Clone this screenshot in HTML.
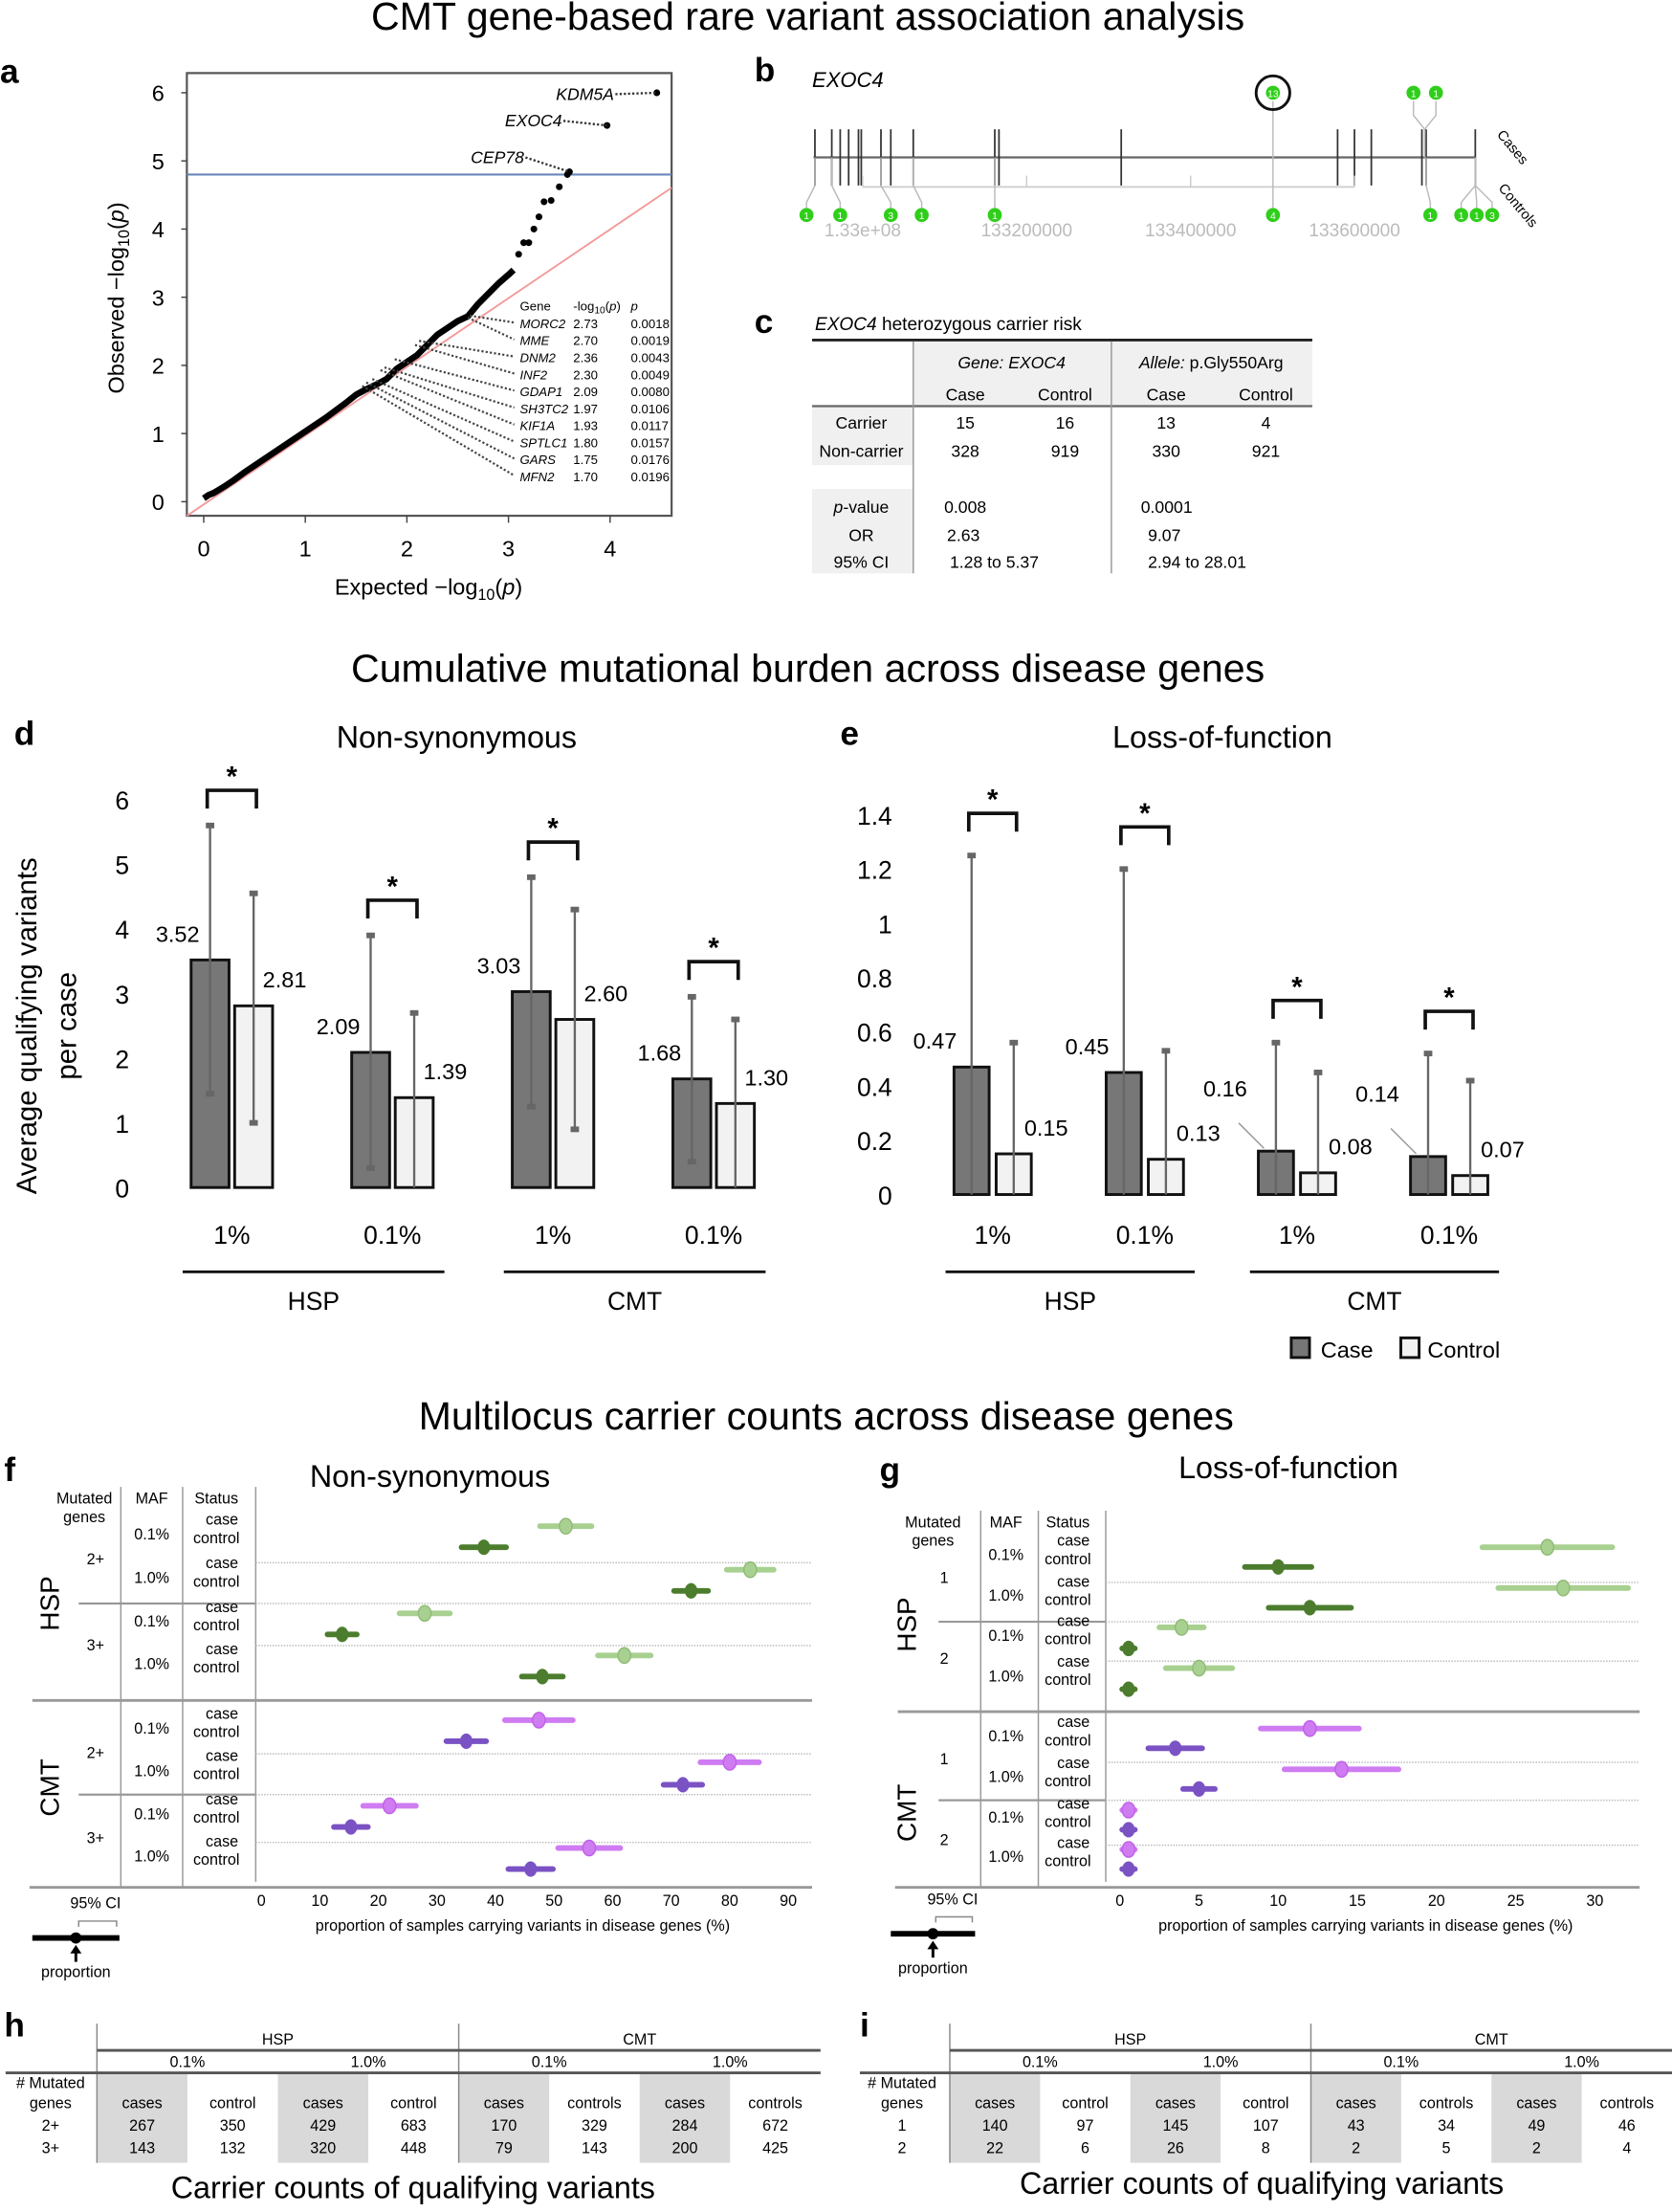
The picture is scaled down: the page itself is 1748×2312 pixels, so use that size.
<!DOCTYPE html>
<html><head><meta charset="utf-8">
<style>
html,body{margin:0;padding:0;background:#fff;}
svg{display:block;font-family:"Liberation Sans",sans-serif;}
</style></head>
<body>
<svg id="fig" width="1748" height="2312" viewBox="0 0 1190 1574" preserveAspectRatio="none" xmlns="http://www.w3.org/2000/svg">
<rect x="0" y="0" width="1190" height="1574" fill="#fff"/>
<!-- Titles -->
<text x="575" y="21" font-size="28" text-anchor="middle">CMT gene-based rare variant association analysis</text>
<text x="575" y="485" font-size="28" text-anchor="middle">Cumulative mutational burden across disease genes</text>
<text x="588" y="1017" font-size="28" text-anchor="middle">Multilocus carrier counts across disease genes</text>

<!-- Panel a -->
<g id="panelA">
<text x="0" y="59" font-size="24" font-weight="bold">a</text>
<rect x="133" y="52" width="345" height="315" fill="none" stroke="#555" stroke-width="1.5"/>
<text transform="translate(88,212) rotate(-90)" font-size="16" text-anchor="middle">Observed −log<tspan font-size="11" dy="4">10</tspan><tspan dy="-4">(</tspan><tspan font-style="italic">p</tspan>)</text>
<text x="305" y="423" font-size="16" text-anchor="middle">Expected −log<tspan font-size="11" dy="4">10</tspan><tspan dy="-4">(</tspan><tspan font-style="italic">p</tspan>)</text>
<text x="370" y="221" font-size="9">Gene</text>
<text x="408" y="221" font-size="9">-log<tspan font-size="7" dy="2">10</tspan><tspan dy="-2">(</tspan><tspan font-style="italic">p</tspan>)</text>
<text x="449" y="221" font-size="9" font-style="italic">p</text>
</g>

<!-- Panel b -->
<g id="panelB">
<text x="537" y="58" font-size="24" font-weight="bold">b</text>
<text x="578" y="62" font-size="15" font-style="italic">EXOC4</text>
<line x1="579" y1="112" x2="1050" y2="112" stroke="#666" stroke-width="1.5"/>
<line x1="614" y1="133" x2="964" y2="133" stroke="#ccc" stroke-width="1.2"/>
<text transform="translate(1065,96) rotate(50)" font-size="10">Cases</text>
<text transform="translate(1066,134) rotate(50)" font-size="10">Controls</text>
</g>

<!-- Panel c -->
<g id="panelC" font-size="12">
<text x="537" y="237" font-size="24" font-weight="bold">c</text>
<text x="580" y="235" font-size="13"><tspan font-style="italic">EXOC4</tspan> heterozygous carrier risk</text>
<rect x="650" y="243" width="284" height="46" fill="#f0f0f0"/>
<rect x="578" y="289" width="72" height="42" fill="#f0f0f0"/>
<rect x="578" y="348" width="72" height="60" fill="#f0f0f0"/>
<line x1="578" y1="242" x2="934" y2="242" stroke="#222" stroke-width="2"/>
<line x1="578" y1="289" x2="934" y2="289" stroke="#666" stroke-width="1.5"/>
<line x1="650" y1="243" x2="650" y2="408" stroke="#999" stroke-width="1"/>
<line x1="791" y1="243" x2="791" y2="408" stroke="#999" stroke-width="1"/>
<text x="720" y="262" text-anchor="middle" font-style="italic">Gene: EXOC4</text>
<text x="862" y="262" text-anchor="middle"><tspan font-style="italic">Allele:</tspan> p.Gly550Arg</text>
<text x="687" y="285" text-anchor="middle">Case</text><text x="758" y="285" text-anchor="middle">Control</text>
<text x="830" y="285" text-anchor="middle">Case</text><text x="901" y="285" text-anchor="middle">Control</text>
<text x="613" y="305" text-anchor="middle">Carrier</text><text x="613" y="325" text-anchor="middle">Non-carrier</text>
<text x="687" y="305" text-anchor="middle">15</text><text x="758" y="305" text-anchor="middle">16</text><text x="830" y="305" text-anchor="middle">13</text><text x="901" y="305" text-anchor="middle">4</text>
<text x="687" y="325" text-anchor="middle">328</text><text x="758" y="325" text-anchor="middle">919</text><text x="830" y="325" text-anchor="middle">330</text><text x="901" y="325" text-anchor="middle">921</text>
<text x="613" y="365" text-anchor="middle"><tspan font-style="italic">p</tspan>-value</text>
<text x="613" y="385" text-anchor="middle">OR</text><text x="613" y="404" text-anchor="middle">95% CI</text>
<text x="672" y="365">0.008</text><text x="674" y="385">2.63</text><text x="676" y="404">1.28 to 5.37</text>
<text x="812" y="365">0.0001</text><text x="817" y="385">9.07</text><text x="817" y="404">2.94 to 28.01</text>
</g>

<!-- Panels d / e static -->
<text x="10" y="530" font-size="24" font-weight="bold">d</text>
<text x="325" y="532" font-size="22" text-anchor="middle">Non-synonymous</text>
<text transform="translate(26,730) rotate(-90)" font-size="20" text-anchor="middle">Average qualifying variants</text>
<text transform="translate(54,730) rotate(-90)" font-size="20" text-anchor="middle">per case</text>
<text x="598" y="530" font-size="24" font-weight="bold">e</text>
<text x="870" y="532" font-size="22" text-anchor="middle">Loss-of-function</text>
<g>
<rect x="919" y="952" width="13" height="14" fill="#777" stroke="#111" stroke-width="2"/>
<text x="940" y="966" font-size="16">Case</text>
<rect x="997" y="952" width="13" height="14" fill="#f2f2f2" stroke="#111" stroke-width="2"/>
<text x="1016" y="966" font-size="16">Control</text>
</g>

<!-- f / g static -->
<text x="3" y="1054" font-size="24" font-weight="bold">f</text>
<text x="306" y="1058" font-size="22" text-anchor="middle">Non-synonymous</text>
<text x="626" y="1054" font-size="24" font-weight="bold">g</text>
<text x="917" y="1052" font-size="22" text-anchor="middle">Loss-of-function</text>

<!-- h / i -->
<text x="3" y="1449" font-size="24" font-weight="bold">h</text>
<text x="612" y="1449" font-size="24" font-weight="bold">i</text>
<text x="294" y="1564" font-size="22" text-anchor="middle">Carrier counts of qualifying variants</text>
<text x="898" y="1561" font-size="22" text-anchor="middle">Carrier counts of qualifying variants</text>
</svg>

<script>
const NS='http://www.w3.org/2000/svg';
const svg=document.getElementById('fig');
function mk(tag,attrs,parent){const e=document.createElementNS(NS,tag);for(const k in attrs)e.setAttribute(k,attrs[k]);(parent||svg).appendChild(e);return e;}
function txt(s,attrs,parent){const e=mk('text',attrs,parent);e.textContent=s;return e;}

/* ---------- Panel a data ---------- */
const qqExpected=[0,0.05,0.1,0.2,0.3,0.4,0.6,0.8,1.0,1.2,1.4,1.5,1.6,1.7,1.8,1.9,2.0,2.1,2.2,2.3,2.4,2.5,2.6,2.7,2.8,2.9,3.0,3.05];
const qqObserved=[0.05,0.1,0.13,0.22,0.32,0.43,0.63,0.83,1.03,1.23,1.45,1.57,1.65,1.72,1.8,1.95,2.05,2.15,2.3,2.45,2.55,2.65,2.72,2.9,3.05,3.2,3.33,3.4];
const tailExpected=[3.1,3.15,3.2,3.25,3.3,3.35,3.42,3.5,3.58,3.6,3.97,4.46];
const tailObserved=[3.63,3.8,3.8,4.0,4.18,4.4,4.42,4.62,4.8,4.84,5.52,6.0];
const aTicks=[0,1,2,3,4,5,6];
const geneNames=['MORC2','MME','DNM2','INF2','GDAP1','SH3TC2','KIF1A','SPTLC1','GARS','MFN2'];
const geneLogP=['2.73','2.70','2.36','2.30','2.09','1.97','1.93','1.80','1.75','1.70'];
const geneP=['0.0018','0.0019','0.0043','0.0049','0.0080','0.0106','0.0117','0.0157','0.0176','0.0196'];
const geneExpected=[2.62,2.6,2.12,2.08,1.88,1.78,1.74,1.66,1.6,1.56];
const topGenes=['KDM5A','EXOC4','CEP78'];
const topIdx=[11,10,9];
const sigThreshold=4.8;

const xA=v=>145+v*72.3, yA=v=>357-v*48.5;
(function(){
  const g=document.getElementById('panelA');
  aTicks.forEach(t=>{
    const l=mk('line',{x1:129,x2:133,y1:yA(t),y2:yA(t),stroke:'#444'},g);
    
    
    const tl=txt(String(t),{x:117,y:yA(t)+6,'font-size':16,'text-anchor':'end'},g);
    
    
    if(t<=4){
      const lx=mk('line',{x1:xA(t),x2:xA(t),y1:367,y2:372,stroke:'#444'},g);
      
      
      const xl=txt(String(t),{x:xA(t),y:396,'font-size':16,'text-anchor':'middle'},g);
      
      
    }
  });
  const sig=mk('line',{x1:133,x2:478,y1:yA(sigThreshold),y2:yA(sigThreshold),stroke:'#6a86b8','stroke-width':1.5},g);
  
  
  const diag=mk('line',{x1:133,y1:yA((133-145)/72.3)+2,x2:478,y2:yA((478-145)/72.3),stroke:'#f39a9a','stroke-width':1.3},g);
  
  
  const pts=qqExpected.map((e,i)=>xA(e)+','+yA(qqObserved[i])).join(' ');
  const pl=mk('polyline',{points:pts,fill:'none',stroke:'#000','stroke-width':4.5,'stroke-linejoin':'round'},g);
  
  
  tailExpected.forEach((e,i)=>{
    const c=mk('circle',{cx:xA(e),cy:yA(tailObserved[i]),r:2.4,fill:'#000'},g);
    
    
  });
  const labelX=[437,400,373], labelY=[71,90,116];
  topGenes.forEach((n,k)=>{
    const i=topIdx[k];
    const l=mk('line',{x1:labelX[k]+1,y1:labelY[k]-4,x2:xA(tailExpected[i]),y2:yA(tailObserved[i]),stroke:'#333','stroke-width':1.6,'stroke-dasharray':'1.5,1.5'},g);
    
    
    const t=txt(n,{x:labelX[k],y:labelY[k],'font-size':12,'font-style':'italic','text-anchor':'end'},g);
    
    
  });
  geneNames.forEach((n,i)=>{
    const ry=233.5+i*12.1;
    const t1=txt(n,{x:370,y:ry,'font-size':9,'font-style':'italic'},g);
    
    
    const t2=txt(geneLogP[i],{x:408,y:ry,'font-size':9},g);
    
    
    const t3=txt(geneP[i],{x:449,y:ry,'font-size':9},g);
    
    
    const l=mk('line',{x1:xA(geneExpected[i]),y1:yA(parseFloat(geneLogP[i])),x2:366,y2:ry-4,stroke:'#444','stroke-width':1.5,'stroke-dasharray':'1.5,1.5'},g);
    
    
  });
})();

/* ---------- Panel b ---------- */
const exonPositions=[580,592,598,604,611,613,627,634,650,708,711,798,952,964,976,1012,1015,1050];
const caseVarPos=[906,1006,1022];
const caseVarCounts=['13','1','1'];
const ctrlVarPos=[574,598,634,656,708,906,1018,1040,1051,1062];
const ctrlVarCounts=['1','1','3','1','1','4','1','1','1','3'];
const ctrlVarAnchor=[580,592,627,650,708,906,1015,1050,1050,1050];
const axisTicks=['1.33e+08','133200000','133400000','133600000'];
(function(){
  const g=document.getElementById('panelB');
  exonPositions.forEach(x=>{
    const l=mk('line',{x1:x,x2:x,y1:92,y2:132,stroke:'#333','stroke-width':1.2},g);
    
    
  });
  axisTicks.forEach((t,i)=>{
    const x=614+i*116.7;
    mk('line',{x1:x,x2:x,y1:125,y2:133,stroke:'#ccc'},g);
    const tl=txt(t,{x:x,y:168,'font-size':13,fill:'#bbb','text-anchor':'middle'},g);
    
    
  });
  caseVarPos.forEach((x,i)=>{
    const ax=i==0?906:1014;
    mk('path',{d:`M${x},72 L${x},82 L${ax},92 L${ax},112`,fill:'none',stroke:'#bbb'},g);
    const c=mk('circle',{cx:x,cy:66,r:5,fill:'#2fce1a'},g);
    
    
    txt(caseVarCounts[i],{x:x,y:69,'font-size':7,fill:'#fff','text-anchor':'middle'},g);
  });
  const ring=mk('circle',{cx:906,cy:66,r:12,fill:'none',stroke:'#111','stroke-width':2},g);
  
  
  ctrlVarPos.forEach((x,i)=>{
    const ax=ctrlVarAnchor[i];
    mk('path',{d:`M${ax},112 L${ax},132 L${x},144 L${x},148`,fill:'none',stroke:'#bbb'},g);
    const c=mk('circle',{cx:x,cy:153,r:5,fill:'#2fce1a'},g);
    
    
    txt(ctrlVarCounts[i],{x:x,y:156,'font-size':7,fill:'#fff','text-anchor':'middle'},g);
  });
})();

/* ---------- Panel d / e data ---------- */
const burdenCats=['1%','0.1%','1%','0.1%'];
const burdenGroups=['HSP','CMT'];
const dTicks=[0,1,2,3,4,5,6];
const dCase=[3.52,2.09,3.03,1.68];
const dControl=[2.81,1.39,2.60,1.30];
const dCaseHi=[5.6,3.9,4.8,2.95];
const dCaseLo=[1.45,0.3,1.25,0.4];
const dCtrlHi=[4.55,2.7,4.3,2.6];
const dCtrlLo=[1.0,0.0,0.9,0.0];
const eTicks=[0,0.2,0.4,0.6,0.8,1,1.2,1.4];
const eCase=[0.47,0.45,0.16,0.14];
const eControl=[0.15,0.13,0.08,0.07];
const eCaseHi=[1.25,1.20,0.56,0.52];
const eCaseLo=[0,0,0,0];
const eCtrlHi=[0.56,0.53,0.45,0.42];
const eCtrlLo=[0,0,0,0];

function burden(o){
  const y=v=>o.zero-v*o.scale;
  o.ticks.forEach(t=>{
    const tl=txt(String(t),{x:o.tickX,y:y(t)+7,'font-size':18,'text-anchor':'end'});
    
    
  });
  for(let g=0;g<4;g++){
    const cl=o.left0+g*o.step, ctl=cl+o.ctrlOff, w=o.bw;
    const b1=mk('rect',{x:cl,y:y(o.cas[g]),width:w,height:o.cas[g]*o.scale,fill:'#777',stroke:'#111','stroke-width':2});
    
    
    const b2=mk('rect',{x:ctl,y:y(o.ctl[g]),width:w,height:o.ctl[g]*o.scale,fill:'#f2f2f2',stroke:'#111','stroke-width':2});
    
    
    [[cl,o.cHi[g],o.cLo[g]],[ctl,o.tHi[g],o.tLo[g]]].forEach(([bx,hi,lo])=>{
      const cx=bx+w/2;
      const el=mk('line',{x1:cx,x2:cx,y1:y(hi),y2:y(lo),stroke:'#666','stroke-width':1.6});
      
      
      mk('rect',{x:cx-3,y:y(hi)-2,width:6,height:4,fill:'#666'});
      if(lo>0) mk('rect',{x:cx-3,y:y(lo)-2,width:6,height:4,fill:'#666'});
    });
    let lift=0;
    if(o.cas[g]<0.2&&o.scale>100){lift=26;
      mk('line',{x1:cl-14,y1:y(o.cas[g])-20,x2:cl+4,y2:y(o.cas[g])-2,stroke:'#999'});}
    const vl=txt(o.cas[g].toFixed(2),{x:cl+o.labOff-(lift?10:0),y:y(o.cas[g])-13-lift,'font-size':16,'text-anchor':'end'});
    
    
    const vl2=txt(o.ctl[g].toFixed(2),{x:ctl+20,y:y(o.ctl[g])-13,'font-size':16});
    
    
    const by=y(Math.max(o.cHi[g],o.tHi[g]))-o.brOff;
    const x1=cl+w/2-2, x2=ctl+w/2+2;
    const br=mk('path',{d:`M${x1},${by+13} L${x1},${by} L${x2},${by} L${x2},${by+13}`,fill:'none',stroke:'#111','stroke-width':2.5});
    
    
    const st=txt('*',{x:(x1+x2)/2,y:by-3,'font-size':20,'font-weight':'bold','text-anchor':'middle'});
    
    
    const cat=txt(burdenCats[g],{x:(cl+ctl+w)/2,y:885,'font-size':18,'text-anchor':'middle'});
    
    
  }
  for(let k=0;k<2;k++){
    const a=o.left0+2*k*o.step-6, b=o.left0+(2*k+1)*o.step+o.ctrlOff+o.bw+8;
    const gl=mk('line',{x1:a,x2:b,y1:905,y2:905,stroke:'#111','stroke-width':2});
    
    
    const gt=txt(burdenGroups[k],{x:(a+b)/2,y:932,'font-size':18,'text-anchor':'middle'});
    
    
  }
}
burden({id:'d',zero:845,scale:46,tickX:92,ticks:dTicks,left0:136,step:114.3,ctrlOff:31,bw:27,labOff:6,brOff:25,cas:dCase,ctl:dControl,cHi:dCaseHi,cLo:dCaseLo,tHi:dCtrlHi,tLo:dCtrlLo});
burden({id:'e',zero:850,scale:193,tickX:635,ticks:eTicks,left0:679,step:108.3,ctrlOff:30,bw:25,labOff:2,brOff:30,cas:eCase,ctl:eControl,cHi:eCaseHi,cLo:eCaseLo,tHi:eCtrlHi,tLo:eCtrlLo});

/* ---------- Panel f / g data ---------- */
const fCase=[52,83.5,27.9,62,47.4,80,21.9,56];
const fCaseCI=[4.4,4,4.3,4.5,5.8,5,4.5,5.3];
const fControl=[38,73.4,13.8,48,35,72,15.3,46];
const fControlCI=[3.8,2.9,2.5,3.5,3.4,3.3,2.9,3.8];
const fTicks=[0,10,20,30,40,50,60,70,80,90];
const fGroupLabels=['2+','3+','2+','3+'];
const gCase=[27.0,28.0,3.9,5.0,12.0,14.0,0.55,0.55];
const gCaseCI=[4.1,4.1,1.4,2.1,3.1,3.6,0.4,0.4];
const gControl=[10.0,12.0,0.55,0.55,3.5,5.0,0.55,0.55];
const gControlCI=[2.1,2.6,0.4,0.4,1.7,1.0,0.4,0.4];
const gTicks=[0,5,10,15,20,25,30];
const gGroupLabels=['1','2','1','2'];

function forest(o){
  const x=v=>o.x0+v*o.xs;
  const rowY=i=>o.rows[i];
  const h1=txt('Mutated',{x:o.colMG,y:o.hy,'font-size':11,'text-anchor':'middle'});
  
  
  txt('genes',{x:o.colMG,y:o.hy+13,'font-size':11,'text-anchor':'middle'});
  const h2=txt('MAF',{x:o.colMAF,y:o.hy,'font-size':11,'text-anchor':'middle'});
  
  
  const h3=txt('Status',{x:o.colSt,y:o.hy,'font-size':11,'text-anchor':'middle'});
  
  
  [o.v1,o.v2].forEach(v=>mk('line',{x1:v,x2:v,y1:o.hy-12,y2:o.bottom,stroke:'#999'}));
  mk('line',{x1:o.v3,x2:o.v3,y1:o.hy-12,y2:o.bottom-4,stroke:'#999'});
  o.dotted.forEach(yy=>mk('line',{x1:o.v3,x2:o.right,y1:yy,y2:yy,stroke:'#bbb','stroke-dasharray':'1,1'}));
  o.solid.forEach(yy=>{mk('line',{x1:o.v1-30,x2:o.v3,y1:yy,y2:yy,stroke:'#999','stroke-width':1.5});mk('line',{x1:o.v3,x2:o.right,y1:yy,y2:yy,stroke:'#bbb','stroke-dasharray':'1,1'});});
  const mid=mk('line',{x1:o.left,x2:o.right,y1:o.midY,y2:o.midY,stroke:'#999','stroke-width':2});
  
  
  mk('line',{x1:o.left-2,x2:o.right,y1:o.bottom,y2:o.bottom,stroke:'#999','stroke-width':2});
  ['HSP','CMT'].forEach((d,k)=>{
    const yy=k?o.cmtY:o.hspY;
    const t=txt(d,{transform:`translate(${o.disX},${yy}) rotate(-90)`,'font-size':19,'text-anchor':'middle'});
    
    
  });
  for(let b=0;b<8;b++){
    const yc=rowY(2*b), yt=rowY(2*b+1);
    txt('case',{x:o.colSt+4,y:yc-1,'font-size':11,'text-anchor':'middle'});
    txt('control',{x:o.colSt,y:yc+12,'font-size':11,'text-anchor':'middle'});
    const m=txt(b%2?'1.0%':'0.1%',{x:o.colMAF,y:(yc+yt)/2+2,'font-size':11,'text-anchor':'middle'});
    
    
    if(b%2==0){
      const gl=txt(o.groupLabels[b/2],{x:o.colMG+8,y:(rowY(2*b)+rowY(2*b+3))/2+4,'font-size':11,'text-anchor':'middle'});
      
      
    }
    const cmt=b>=4;
    const cc=cmt?'#cf7cf2':'#a8d090', tc=cmt?'#7b52c4':'#4c7d2e';
    const l1=mk('line',{x1:x(o.cas[b]-o.casCI[b]),x2:x(o.cas[b]+o.casCI[b]),y1:yc,y2:yc,stroke:cc,'stroke-width':4,'stroke-linecap':'round'});
    
    
    const p1=mk('ellipse',{cx:x(o.cas[b]),cy:yc,rx:4.5,ry:5.5,fill:cc,stroke:cmt?'#c060e8':'#90bb78'});
    
    
    const l2=mk('line',{x1:x(o.ctl[b]-o.ctlCI[b]),x2:x(o.ctl[b]+o.ctlCI[b]),y1:yt,y2:yt,stroke:tc,'stroke-width':4,'stroke-linecap':'round'});
    
    
    const p2=mk('ellipse',{cx:x(o.ctl[b]),cy:yt,rx:4.5,ry:5.5,fill:tc});
    
    
  }
  o.ticks.forEach(t=>{
    const tl=txt(String(t),{x:x(t),y:1356,'font-size':11,'text-anchor':'middle'});
    
    
  });
  const xt=txt('proportion of samples carrying variants in disease genes (%)',{x:o.xlabX,y:1374,'font-size':11,'text-anchor':'middle'});
  
  
  const L=o.leg;
  const lt=txt('95% CI',{x:L.cx+14,y:L.y-21,'font-size':11,'text-anchor':'middle'});
  
  
  mk('path',{d:`M${L.cx+2},${L.y-8} L${L.cx+2},${L.y-12} L${L.x2-2},${L.y-12} L${L.x2-2},${L.y-8}`,fill:'none',stroke:'#888'});
  const lb=mk('line',{x1:L.x1,x2:L.x2,y1:L.y,y2:L.y,stroke:'#000','stroke-width':4});
  
  
  mk('circle',{cx:L.cx,cy:L.y,r:4,fill:'#000'});
  mk('line',{x1:L.cx,x2:L.cx,y1:L.y+17,y2:L.y+8,stroke:'#000','stroke-width':2});
  mk('path',{d:`M${L.cx-4},${L.y+11} L${L.cx},${L.y+5} L${L.cx+4},${L.y+11} Z`,fill:'#000'});
  const lp=txt('proportion',{x:L.cx,y:L.y+28,'font-size':11,'text-anchor':'middle'});
  
  
}
forest({id:'f',x0:186,xs:4.167,left:23,right:578,v1:86,v2:130,v3:182,colMG:60,colMAF:108,colSt:154,hy:1070,
  rows:[1086,1101,1117,1132,1148,1163,1178,1193,1224,1239,1254,1270,1285,1300,1315,1330],
  dotted:[1112,1171,1248,1311],solid:[1141,1277],midY:1210,bottom:1343,disX:42,hspY:1141,cmtY:1272,
  groupLabels:fGroupLabels,cas:fCase,casCI:fCaseCI,ctl:fControl,ctlCI:fControlCI,ticks:fTicks,xlabX:372,
  leg:{x1:23,x2:85,cx:54,y:1379}});
forest({id:'g',x0:797,xs:11.27,left:639,right:1167,v1:698,v2:739,v3:787,colMG:664,colMAF:716,colSt:760,hy:1087,
  rows:[1101,1115,1130,1144,1158,1173,1187,1202,1230,1244,1259,1273,1288,1302,1316,1330],
  dotted:[1126,1182,1254,1313],solid:[1154,1281],midY:1218,bottom:1343,disX:652,hspY:1156,cmtY:1290,
  groupLabels:gGroupLabels,cas:gCase,casCI:gCaseCI,ctl:gControl,ctlCI:gControlCI,ticks:gTicks,xlabX:972,
  leg:{x1:634,x2:694,cx:664,y:1376}});

/* ---------- Panel h / i data ---------- */
const tableCols=['cases','control','cases','control','cases','controls','cases','controls'];
const hRowLabels=['2+','3+'];
const hRow1=[267,350,429,683,170,329,284,672];
const hRow2=[143,132,320,448,79,143,200,425];
const iRowLabels=['1','2'];
const iRow1=[140,97,145,107,43,34,49,46];
const iRow2=[22,6,26,8,2,5,2,4];
function countTable(o){
  const cw=(o.right-o.start)/8;
  for(let c=0;c<8;c+=2){
    const r=mk('rect',{x:o.start+c*cw,y:1475,width:cw,height:64,fill:'#d9d9d9'});
    
    
  }
  mk('line',{x1:o.start,x2:o.start,y1:1440,y2:1539,stroke:'#888'});
  mk('line',{x1:o.start+4*cw,x2:o.start+4*cw,y1:1440,y2:1539,stroke:'#888'});
  mk('line',{x1:o.start,x2:o.right,y1:1459,y2:1459,stroke:'#555','stroke-width':2});
  mk('line',{x1:o.left,x2:o.right,y1:1475,y2:1475,stroke:'#555','stroke-width':2});
  ['HSP','CMT'].forEach((d,k)=>{
    const t=txt(d,{x:o.start+(2+4*k)*cw,y:1455,'font-size':11,'text-anchor':'middle'});
    
    
  });
  for(let k=0;k<4;k++){
    const t=txt(k%2?'1.0%':'0.1%',{x:o.start+(1+2*k)*cw,y:1471,'font-size':11,'text-anchor':'middle'});
    
    
  }
  txt('# Mutated',{x:o.lab,y:1486,'font-size':11,'text-anchor':'middle'});
  txt('genes',{x:o.lab,y:1500,'font-size':11,'text-anchor':'middle'});
  o.rowLabels.forEach((r,i)=>txt(r,{x:o.lab,y:1516+i*16,'font-size':11,'text-anchor':'middle'}));
  for(let c=0;c<8;c++){
    const cx=o.start+(c+0.5)*cw;
    txt(tableCols[c],{x:cx,y:1500,'font-size':11,'text-anchor':'middle'});
    const a=txt(String(o.r1[c]),{x:cx,y:1516,'font-size':11,'text-anchor':'middle'});
    
    
    const b=txt(String(o.r2[c]),{x:cx,y:1532,'font-size':11,'text-anchor':'middle'});
    
    
  }
}
countTable({id:'h',left:4,start:69,right:584,lab:36,rowLabels:hRowLabels,r1:hRow1,r2:hRow2});
countTable({id:'i',left:612,start:676,right:1190,lab:642,rowLabels:iRowLabels,r1:iRow1,r2:iRow2});
</script>
</body></html>
